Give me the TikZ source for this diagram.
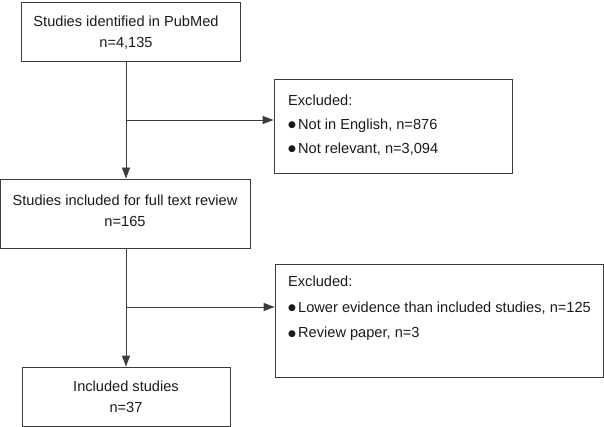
\documentclass[tikz,border=0pt]{standalone}
\usepackage{fontspec}
\setmainfont{Liberation Sans}
\newfontfamily\dvsans{DejaVu Sans}
\usetikzlibrary{arrows.meta}
\definecolor{linegray}{HTML}{3C3C3C}
\definecolor{txtblack}{HTML}{1A1A1A}
\newcommand\bulmark{\makebox[10pt][l]{\raisebox{1.6pt}{\dvsans\fontsize{9}{9}\selectfont ●}}}
\begin{document}
\begin{tikzpicture}[x=1pt,y=-1pt,
  box/.style={draw=linegray, line width=0.9pt, inner sep=0pt},
  ctxt/.style={align=center, text=txtblack, inner sep=0pt, font=\fontsize{14.6}{21}\selectfont},
  ltxt/.style={align=left, text=txtblack, inner sep=0pt, anchor=west},
  arr/.style={draw=linegray, line width=0.9pt, -{Triangle[length=11pt,width=8pt]}}]
\useasboundingbox (0,0) rectangle (604,427);
% main boxes
\node[box, minimum width=219pt, minimum height=59pt] (b1) at (130.5,31.5) {};
\node[ctxt] (t1) at (126,32.5) {Studies identified in PubMed\\n=4,135};
\node[box, minimum width=249.5pt, minimum height=69pt] (b2) at (125.25,213.5) {};
\node[ctxt] (t2) at (125,210.5) {Studies included for full text review\\n=165};
\node[box, minimum width=208pt, minimum height=59pt] (b3) at (126,396.5) {};
\node[ctxt] (t3) at (126,397) {Included studies\\n=37};
% exclusion boxes
\node[box, minimum width=238pt, minimum height=94pt] (e1) at (393,126) {};
\node[ltxt, font=\fontsize{14.6}{24}\selectfont] (et1) at (288,125) {Excluded:\\\bulmark Not in English, n=876\\\bulmark Not relevant, n=3,094};
\node[box, minimum width=328pt, minimum height=113pt] (e2) at (439,320.5) {};
\node[ltxt, font=\fontsize{14.6}{25.5}\selectfont] (et2) at (288,308.5) {Excluded:\\\bulmark Lower evidence than included studies, n=125\\\bulmark Review paper, n=3};
% connectors
\coordinate (j1) at (126,120);
\coordinate (j2) at (126,307);
\draw[arr] (b1.south -| b3) -- (b2.north -| b3);
\draw[arr] (b2.south -| b3) -- (b3.north);
\draw[arr] (j1) -- (j1 -| e1.west);
\draw[arr] (j2) -- (j2 -| e2.west);
\end{tikzpicture}
\end{document}
